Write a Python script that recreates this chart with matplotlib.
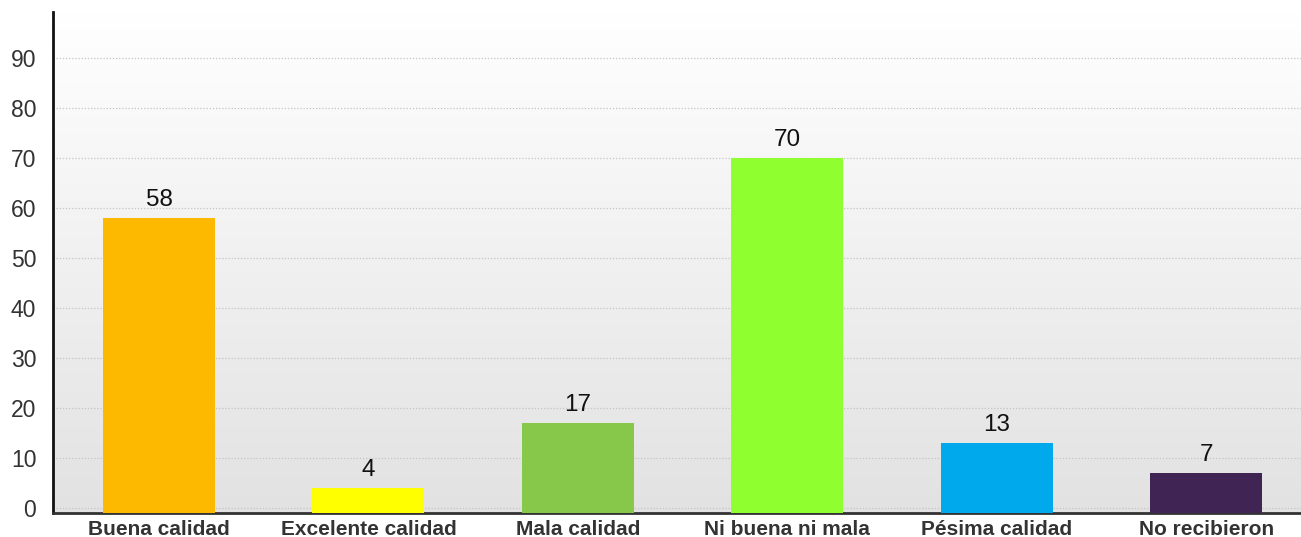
import numpy as np
import matplotlib
matplotlib.use("Agg")
import matplotlib.pyplot as plt
from matplotlib.colors import LinearSegmentedColormap

plt.rcParams['font.family'] = ['Liberation Sans', 'DejaVu Sans']

# Data
categories = ["Buena calidad", "Excelente calidad", "Mala calidad",
              "Ni buena ni mala", "Pésima calidad", "No recibieron"]
values = [58, 4, 17, 70, 13, 7]
colors = ["#fdb800", "#ffff00", "#87c84a", "#8fff2f", "#00a8ec", "#402454"]
yticks = [0, 10, 20, 30, 40, 50, 60, 70, 80, 90]

ymin, ymax = -1, 99.2

fig = plt.figure(figsize=(13.01, 5.37), dpi=100)
ax = fig.add_axes([53 / 1301, (537 - 513) / 537, (1301 - 53) / 1301, (513 - 12) / 537])

# background gradient: white at top, light gray at bottom
grad = np.linspace(0, 1, 256).reshape(-1, 1)
cmap = LinearSegmentedColormap.from_list("bg", ["#ffffff", "#e2e2e2"])
ax.imshow(grad, aspect="auto", cmap=cmap, extent=[0, 1, 0, 1], origin="upper",
          transform=ax.transAxes, zorder=0)

x = np.arange(len(categories))
heights = [v - ymin for v in values]
ax.bar(x, heights, bottom=ymin, width=0.535, color=colors, zorder=3)

for xi, v in zip(x, values):
    ax.text(xi, v + 1.4, str(v), ha="center", va="bottom", fontsize=17.5,
            color="#111111", zorder=4)

ax.set_xlim(-0.506, 5.453)
ax.set_ylim(ymin, ymax)
ax.set_yticks(yticks)
ax.set_yticklabels([str(t) for t in yticks], fontsize=16.5, color="#333333")
ax.set_xticks(x)
ax.set_xticklabels(categories, fontsize=15, fontweight="bold", color="#333333")
ax.tick_params(axis="y", length=0, pad=12)
ax.tick_params(axis="x", length=0, pad=5)

ax.grid(axis="y", linestyle=(0, (1, 1.5)), color="#c4c4c4", linewidth=0.9, zorder=1)
ax.set_axisbelow(True)

for s in ["top", "right"]:
    ax.spines[s].set_visible(False)
ax.spines["left"].set_color("#111111")
ax.spines["left"].set_linewidth(2)
ax.spines["bottom"].set_color("#333333")
ax.spines["bottom"].set_linewidth(2)

fig.savefig("out.png", dpi=100)
